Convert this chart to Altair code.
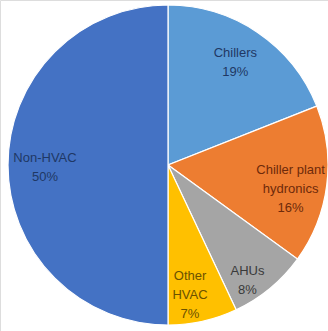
import altair as alt
import pandas as pd

# Share of energy use by end use
categories = ["Chillers", "Chiller plant hydronics", "AHUs", "Other HVAC", "Non-HVAC"]
label_lines = ["Chillers", "Chiller plant\nhydronics", "AHUs", "Other\nHVAC", "Non-HVAC"]
shares = [19, 16, 8, 7, 50]

# Slice fills and the darker label tints that go with them
slice_colors = ["#5B9BD5", "#ED7D31", "#A5A5A5", "#FFC000", "#4472C4"]
text_colors = ["#1F3864", "#6E2A0A", "#3A3A3A", "#6B5200", "#1F3864"]
# Label placement: distance from the pie centre (px) and a small turn (deg)
# away from the slice's middle angle
label_radius = [123, 125, 140, 132, 123]
label_turn = [-1, 4, 5, 3, -1]

CX, CY, R = 168, 165, 160
LINE_H = 19

labels_text = [f"{t}\n{v}%" for t, v in zip(label_lines, shares)]
df = pd.DataFrame({
    "category": categories,
    "share": shares,
    "order": list(range(len(categories))),
    "label": labels_text,
    "nlines": [s.count("\n") + 1 for s in labels_text],
    "lr": label_radius,
    "turn": label_turn,
})

pie = alt.Chart(df).mark_arc(x=CX, y=CY, radius=R, stroke="white", strokeWidth=1.2).encode(
    theta=alt.Theta("share:Q", stack=True),
    order=alt.Order("order:Q"),
    color=alt.Color(
        "category:N",
        scale=alt.Scale(domain=categories, range=slice_colors),
        legend=None,
    ),
)

# Label anchors: middle angle of each slice (clockwise from 12 o'clock),
# with multi-line blocks centred vertically on the anchor
labels = (
    alt.Chart(df)
    .transform_window(cum="sum(share)", sort=[alt.SortField("order")], frame=[None, 0])
    .transform_joinaggregate(total="sum(share)")
    .transform_calculate(
        mid="(datum.cum - datum.share / 2) / datum.total * 2 * PI + datum.turn * PI / 180"
    )
    .transform_calculate(
        lx=f"{CX} + datum.lr * sin(datum.mid)",
        ly=f"{CY} - datum.lr * cos(datum.mid) - (datum.nlines - 1) * {LINE_H} / 2",
    )
    .mark_text(
        font="Liberation Sans",
        fontSize=13,
        lineBreak="\n",
        lineHeight=LINE_H,
        align="center",
        baseline="middle",
    )
    .encode(
        x=alt.X("lx:Q", scale=None),
        y=alt.Y("ly:Q", scale=None),
        text="label:N",
        color=alt.Color(
            "category:N",
            scale=alt.Scale(domain=categories, range=text_colors),
            legend=None,
        ),
    )
)

chart = (
    alt.layer(pie, labels)
    .resolve_scale(color="independent")
    .properties(width=328, height=331, padding=0, autosize=alt.AutoSizeParams(type="none"))
    .configure_view(stroke=None)
    .configure(background="white")
)

chart.save("out.html", embed_options={"renderer": "svg", "actions": False})
